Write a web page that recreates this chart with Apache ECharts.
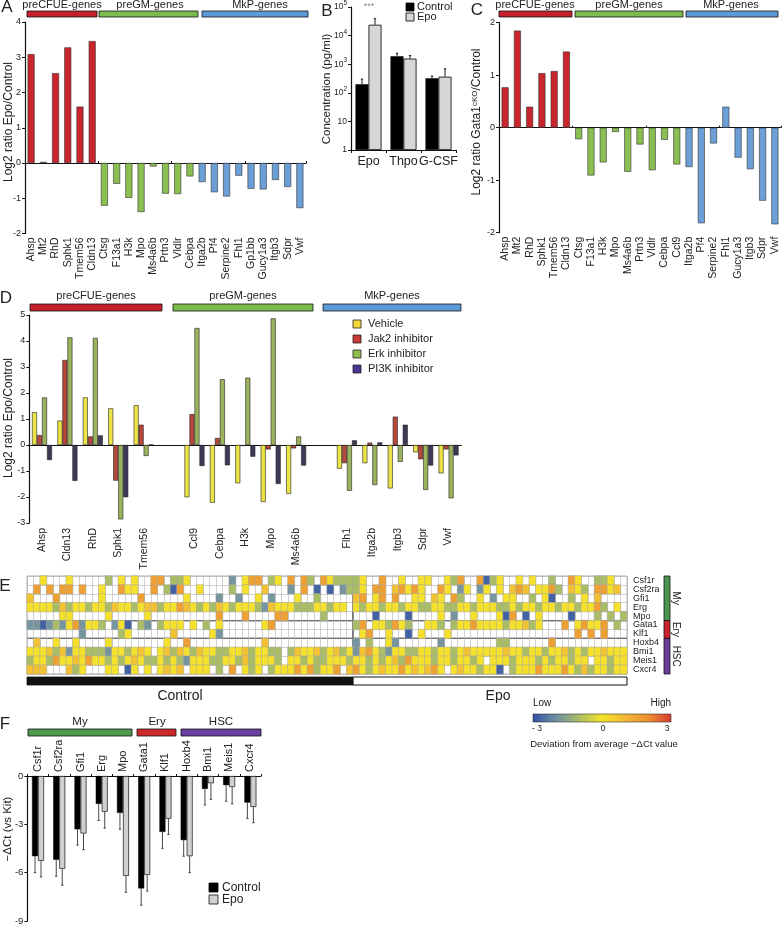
<!DOCTYPE html>
<html><head><meta charset="utf-8">
<script src="https://cdn.jsdelivr.net/npm/echarts@6/dist/echarts.min.js"></script>
<style>html,body{margin:0;padding:0;background:#fff}#c{width:783px;height:926px}</style>
</head><body><div id="c"></div>
<script>
const FONT = '"Liberation Sans", Arial, Helvetica, sans-serif';

// ---------- Panel A ----------
const genesA = ['Ahsp','Mt2','RhD','Sphk1','Tmem56','Cldn13','Ctsg','F13a1','H3k','Mpo','Ms4a6b','Prtn3','Vldlr','Cebpa','Itga2b','Pf4','Serpine2','Fhl1','Gp1bb','Gucy1a3','Itgb3','Sdpr','Vwf'];
const log2EpoA = [3.09,0.03,2.55,3.28,1.6,3.46,-1.21,-0.59,-0.99,-1.39,-0.1,-0.87,-0.88,-0.38,-0.54,-0.83,-0.95,-0.36,-0.73,-0.75,-0.48,-0.68,-1.28];
const groupA = ['e','e','e','e','e','e','g','g','g','g','g','g','g','g','m','m','m','m','m','m','m','m','m'];

// ---------- Panel B ----------
const cytokinesB = ['Epo','Thpo','G-CSF'];
const controlB = [200,1900,320];
const controlErrTopB = [300,2400,385];
const epoB = [24000,1570,365];
const epoErrTopB = [39000,2000,690];

// ---------- Panel C ----------
const genesC = ['Ahsp','Mt2','RhD','Sphk1','Tmem56','Cldn13','Ctsg','F13a1','H3k','Mpo','Ms4a6b','Prtn3','Vldlr','Cebpa','Ccl9','Itga2b','Pf4','Serpine2','Fhl1','Gucy1a3','Itgb3','Sdpr','Vwf'];
const log2KoC = [0.77,1.85,0.40,1.04,1.08,1.45,-0.22,-0.91,-0.66,-0.08,-0.84,-0.32,-0.81,-0.23,-0.70,-0.75,-1.82,-0.30,0.40,-0.57,-0.79,-1.39,-1.84];
const groupC = ['e','e','e','e','e','e','g','g','g','g','g','g','g','g','g','m','m','m','m','m','m','m','m'];

// ---------- Panel D ----------
const genesD = ['Ahsp','Cldn13','RhD','Sphk1','Tmem56',' ','Ccl9','Cebpa','H3k','Mpo','Ms4a6b','  ','Flh1','Itga2b','Itgb3','Sdpr','Vwf'];
const vehicleD = [1.26,0.94,1.83,1.41,1.53,null,-2.01,-2.22,-1.47,-2.19,-1.88,null,-0.91,-0.70,-1.67,-0.28,-1.09];
const jak2D    = [0.38,3.27,0.33,-1.37,0.78,null,1.19,0.27,-0.04,-0.17,-0.13,null,-0.70,0.09,1.09,-0.55,-0.17];
const erkD     = [1.83,4.14,4.12,-2.86,-0.42,null,4.50,2.53,2.59,4.87,0.33,null,-1.76,-1.54,-0.65,-1.73,-2.05];
const pi3kD    = [-0.58,-1.38,0.37,-2.01,0.02,null,-0.81,-0.78,-0.45,-1.50,-0.79,null,0.18,0.10,0.78,-0.79,-0.40];
const seriesNamesD = ['Vehicle','Jak2 inhibitor','Erk inhibitor','PI3K inhibitor'];

// ---------- Panel E (heatmap, one code per cell; '.' = no value) ----------
const heatRows = ['Csf1r','Csf2ra','Gfi1','Erg','Mpo','Gata1','Klf1','Hoxb4','Bmi1','Meis1','Cxcr4'];
const heatCodeValue = {b:-2.7, g:-1.9, o:-1.0, l:-0.4, y:0.1, a:0.8, O:1.6, r:2.4};
const heatCodes = [
 '..y...y... ..o.y.y..O O.ooy..... .g.yOO.oy. O.Oo.Oyooo | oy..O..y.. yy..yoO..O boy..y.y.. o..Oy..ooy ..',
 '.O.O.OO.O. .y..Oyy..O .obO..y... .o.y..a... g.O.b.b.go | oy.OO.aOyO y..Oy.gy.g y.y.aOa.yy Oo.ayo.OOy a.',
 'a...O..... .y.....O.. ....y....g ..g..y.g.. .y..o..... | aO.yO.O..y y.ay.Oo..y .g.yy..o.y b..o.y.a.. ..',
 'yyyyoaoyyo yyoayyoyaa oyyOayoyoa yoyyyogayy yoooyyoyy. | yoyyoyyoyy ooyyooyyoy yyooyoyyoy yoyyoyyOo. y.',
 '.....yy... ..y.....y. .........O ...O....OO .....o.... | ...b....b. ...y.g..y. ..ybO.b.y. ...b...o.o .o',
 'ggbgogyOgy yo.gyb.og. oyyy.y.o.y ......yO.. .......... | oO.yyoOyo. .yyo.oyyOy yyyoyyaoy. ..O.yOyyO. o.',
 '........g. ....oy.... ..a.....yg .......... .......... | .yO..y..b. y...y..... .......... ....O.O.O. ..',
 '.a..y..y.. ..y....... .y..O..... ......a... .......... | g.o..yg... ...g...... ..oo...... O......... ..',
 'yyyaoagyyo oogyyoyay. yaoayoayyo oyyaoyyoo. oayyaoyaoy | gaOyogyyoo yyoyyoyayy yyyayyoyyo yyaoyoyyay yy',
 'oyyoOyyayO yyoyoyayoo yoyogyyyoo yyoaoyyyo. yyoyooyyyo | yyoyoyaoOy yyoyyoyyoy .yyyoyyyoy oyyoyy.yyo yy',
 'aaa...aoy. ..yy.by.y. yaya.yyy.o .O.yoy.oyy yOyOoyyO.a | OyoyayyOya yaOy.yayyo yyb.oyyyOy yyOyoaoyyo yy'
];
const nControl = 50, nEpo = 42;

// ---------- Panel F ----------
const genesF = ['Csf1r','Csf2ra','Gfi1','Erg','Mpo','Gata1','Klf1','Hoxb4','Bmi1','Meis1','Cxcr4'];
const controlF = [-4.98,-5.20,-3.31,-1.73,-2.29,-6.98,-3.47,-3.98,-0.80,-0.57,-1.65];
const controlErrF = [1.02,1.02,0.98,1.03,1.02,1.04,1.02,1.00,1.00,1.00,0.98];
const epoF = [-5.27,-5.76,-3.57,-2.22,-6.20,-6.14,-2.65,-4.98,-0.45,-0.69,-1.92];
const epoErrF = [1.00,1.02,1.00,1.02,1.02,1.00,0.98,1.02,1.00,1.04,0.98];

// ================= build =================
const chart = echarts.init(document.getElementById('c'), null, {renderer:'canvas', width:783, height:926});
const BAR_COL = {e:'#c8252d', g:'#8cbf52', m:'#6c9fd8'};
const HDR = {red:'#c4212b', green:'#7cbc4c', blue:'#5b9ad6'};
const TXT = '#222';

const heatCols = [];
for (let i = 0; i < nControl + nEpo; i++) heatCols.push(String(i));
const heatData = [];
heatCodes.forEach((row, r) => {
  const s = row.replace(/[ |]/g, '');
  for (let c = 0; c < nControl + nEpo; c++) {
    const ch = s[c];
    if (ch && heatCodeValue[ch] !== undefined) heatData.push([c, r, heatCodeValue[ch]]);
  }
});

const HM = {left:27, top:576, width:600, height:98};
const heatColors = ['#2f4fa3','#7090a4','#a9bd66','#f5e52a','#f3b935','#ec8f30','#d63a2f'];

function barItems(vals, groups) {
  return vals.map((v, i) => ({value: v, itemStyle: {color: BAR_COL[groups[i]]}}));
}
function t(x, y, text, size, opts) {
  return Object.assign({type:'text', x:x, y:y, silent:true, style:Object.assign({
    text:text, fill:TXT, font: size + 'px ' + FONT, textAlign:'center', textVerticalAlign:'middle'
  }, (opts && opts.style) || {})}, (opts && opts.el) || {});
}
function r(x, y, w, h, fill, stroke, lw) {
  return {type:'rect', silent:true, shape:{x:x, y:y, width:w, height:h}, style:{fill:fill, stroke:stroke || '#111', lineWidth: lw == null ? 0.8 : lw}};
}
function ln(x1, y1, x2, y2, stroke, lw) {
  return {type:'line', silent:true, shape:{x1:x1, y1:y1, x2:x2, y2:y2}, style:{stroke:stroke, lineWidth:lw}};
}
const ROT = Math.PI / 2;

const axisLbl = {fontSize:9, color:TXT, fontFamily:FONT};
const yLine = {show:true, lineStyle:{color:'#111', width:1.2}};
const tick3 = {show:true, length:3, lineStyle:{color:'#111'}};

function errRender(offset, color) {
  return function (params, api) {
    const p0 = api.coord([api.value(0), api.value(1)]);
    const p1 = api.coord([api.value(0), api.value(2)]);
    const x = p0[0] + offset;
    return {type:'group', children:[
      {type:'line', shape:{x1:x, y1:p0[1], x2:x, y2:p1[1]}, style:{stroke:color, lineWidth:0.9}},
      {type:'line', shape:{x1:x - 1.2, y1:p1[1], x2:x + 1.2, y2:p1[1]}, style:{stroke:color, lineWidth:0.9}}
    ]};
  };
}

const option = {
  animation: false,
  backgroundColor: '#fff',
  textStyle: {fontFamily: FONT},
  grid: [
    {left:25, top:22, width:281, height:211.5},
    {left:351, top:5, width:105, height:145},
    {left:499, top:22.7, width:282, height:210},
    {left:29.3, top:315, width:432, height:208},
    {left:HM.left, top:HM.top, width:HM.width, height:HM.height, show:true, borderColor:'#9a9a9a', borderWidth:0.8},
    {left:27.4, top:776, width:233.6, height:146}
  ],
  xAxis: [
    {gridIndex:0, type:'category', data:genesA, position:'bottom', axisLine:{show:false, onZero:false}, axisTick:{show:false},
      axisLabel:Object.assign({}, axisLbl, {rotate:90, interval:0, fontSize:10.5, margin:4})},
    {gridIndex:0, type:'category', data:genesA, position:'top', axisLine:{show:true, onZero:true, lineStyle:{color:'#111', width:1}},
      axisTick:{show:true, length:2, lineStyle:{color:'#111'}}, axisLabel:{show:false}},
    {gridIndex:1, type:'category', data:cytokinesB, axisLine:{show:true, lineStyle:{color:'#111'}}, axisTick:{show:true, length:3, lineStyle:{color:'#111'}},
      axisLabel:Object.assign({}, axisLbl, {fontSize:12.5, margin:5, interval:0})},
    {gridIndex:2, type:'category', data:genesC, position:'bottom', axisLine:{show:false, onZero:false}, axisTick:{show:false},
      axisLabel:Object.assign({}, axisLbl, {rotate:90, interval:0, fontSize:10.5, margin:4})},
    {gridIndex:2, type:'category', data:genesC, position:'top', axisLine:{show:true, onZero:true, lineStyle:{color:'#111', width:1}},
      axisTick:{show:true, length:2, lineStyle:{color:'#111'}}, axisLabel:{show:false}},
    {gridIndex:3, type:'category', data:genesD, position:'bottom', axisLine:{show:false, onZero:false}, axisTick:{show:false},
      axisLabel:Object.assign({}, axisLbl, {rotate:90, interval:0, fontSize:10.5, margin:5})},
    {gridIndex:3, type:'category', data:genesD, position:'top', axisLine:{show:true, onZero:true, lineStyle:{color:'#111', width:1}},
      axisTick:{show:false}, axisLabel:{show:false}},
    {gridIndex:4, type:'category', data:heatCols, axisLine:{show:false}, axisTick:{show:false}, axisLabel:{show:false},
      splitLine:{show:true, interval:0, lineStyle:{color:'#b4b4b4', width:0.6}}},
    {gridIndex:5, type:'category', data:genesF, position:'top', axisLine:{show:true, lineStyle:{color:'#111'}},
      axisTick:{show:true, length:2, lineStyle:{color:'#111'}},
      axisLabel:Object.assign({}, axisLbl, {rotate:90, interval:0, fontSize:11, margin:4})}
  ],
  yAxis: [
    {gridIndex:0, type:'value', min:-2, max:4, interval:1, axisLine:yLine, axisTick:tick3, splitLine:{show:false},
      axisLabel:Object.assign({}, axisLbl, {margin:4})},
    {gridIndex:1, type:'log', logBase:10, min:1, max:100000, axisLine:yLine, axisTick:tick3, splitLine:{show:false},
      axisLabel:Object.assign({}, axisLbl, {margin:4, fontSize:8.5, lineHeight:14,
        formatter: v => v < 5 ? '1' : v < 50 ? '10' : '10{s|' + Math.round(Math.log10(v)) + '}',
        rich:{s:{fontSize:6.5, verticalAlign:'top', lineHeight:7, fontFamily:FONT, color:TXT}}})},
    {gridIndex:2, type:'value', min:-2, max:2, interval:1, axisLine:yLine, axisTick:tick3, splitLine:{show:false},
      axisLabel:Object.assign({}, axisLbl, {margin:4})},
    {gridIndex:3, type:'value', min:-3, max:5, interval:1, axisLine:yLine, axisTick:tick3, splitLine:{show:false},
      axisLabel:Object.assign({}, axisLbl, {margin:4})},
    {gridIndex:4, type:'category', data:heatRows, inverse:true, position:'right', axisLine:{show:false}, axisTick:{show:false},
      axisLabel:Object.assign({}, axisLbl, {fontSize:9, margin:6, interval:0}),
      splitLine:{show:true, interval:0, lineStyle:{color:'#b4b4b4', width:0.6}}},
    {gridIndex:5, type:'value', min:-9, max:0, interval:3, axisLine:yLine, axisTick:tick3, splitLine:{show:false},
      axisLabel:Object.assign({}, axisLbl, {margin:4, fontSize:9.5})}
  ],
  visualMap: [{type:'continuous', show:false, min:-3, max:3, seriesIndex:9, inRange:{color:heatColors}}],
  series: [
    {type:'bar', xAxisIndex:0, yAxisIndex:0, barWidth:7, data:barItems(log2EpoA, groupA),
      itemStyle:{borderColor:'#333', borderWidth:0.6}},
    {type:'bar', name:'Control', xAxisIndex:2, yAxisIndex:1, barWidth:13, barGap:'0%', data:controlB,
      itemStyle:{color:'#000', borderColor:'#000', borderWidth:0.5}},
    {type:'bar', name:'Epo', xAxisIndex:2, yAxisIndex:1, barWidth:13, barGap:'0%', data:epoB,
      itemStyle:{color:'#d6d6d6', borderColor:'#000', borderWidth:0.8}},
    {type:'custom', xAxisIndex:2, yAxisIndex:1, z:5,
      data: controlB.map((v, i) => [i, v, controlErrTopB[i], -1]).concat(epoB.map((v, i) => [i, v, epoErrTopB[i], 1])),
      renderItem: function (params, api) {
        const side = api.value(3);
        return errRender(side * 6.5, '#000')(params, api);
      }},
    {type:'bar', xAxisIndex:3, yAxisIndex:2, barWidth:7, data:barItems(log2KoC, groupC),
      itemStyle:{borderColor:'#333', borderWidth:0.6}},
    {type:'bar', name:seriesNamesD[0], xAxisIndex:5, yAxisIndex:3, barWidth:5, barGap:'0%', data:vehicleD,
      itemStyle:{color:'#ece346', borderColor:'#222', borderWidth:0.6}},
    {type:'bar', name:seriesNamesD[1], xAxisIndex:5, yAxisIndex:3, barWidth:5, barGap:'0%', data:jak2D,
      itemStyle:{color:'#b5473b', borderColor:'#222', borderWidth:0.6}},
    {type:'bar', name:seriesNamesD[2], xAxisIndex:5, yAxisIndex:3, barWidth:5, barGap:'0%', data:erkD,
      itemStyle:{color:'#9ab35c', borderColor:'#222', borderWidth:0.6}},
    {type:'bar', name:seriesNamesD[3], xAxisIndex:5, yAxisIndex:3, barWidth:5, barGap:'0%', data:pi3kD,
      itemStyle:{color:'#3d3a57', borderColor:'#222', borderWidth:0.6}},
    {type:'heatmap', xAxisIndex:7, yAxisIndex:4, data:heatData,
      itemStyle:{borderColor:'#a8a8a8', borderWidth:0.5}},
    {type:'bar', name:'Control', xAxisIndex:8, yAxisIndex:5, barWidth:6, barGap:'0%', data:controlF,
      itemStyle:{color:'#000', borderColor:'#000', borderWidth:0.5}},
    {type:'bar', name:'Epo', xAxisIndex:8, yAxisIndex:5, barWidth:6, barGap:'0%', data:epoF,
      itemStyle:{color:'#d0d0d0', borderColor:'#111', borderWidth:0.7}},
    {type:'custom', xAxisIndex:8, yAxisIndex:5, z:5,
      data: controlF.map((v, i) => [i, v, v - controlErrF[i], -1]).concat(epoF.map((v, i) => [i, v, v - epoErrF[i], 1])),
      renderItem: function (params, api) {
        const side = api.value(3);
        return errRender(side * 3, '#333')(params, api);
      }}
  ],
  graphic: []
};

const sepX = HM.left + HM.width * nControl / (nControl + nEpo);
const rowH = HM.height / heatRows.length;
const g = [
  t(7, 7, 'A', 17), t(327, 11, 'B', 17), t(477, 10, 'C', 17), t(6, 298, 'D', 17), t(5, 586, 'E', 17), t(5, 724, 'F', 17),
  r(27, 11, 70, 6, HDR.red), r(99, 11, 99, 6, HDR.green), r(202, 11, 106, 6, HDR.blue),
  t(62, 5, 'preCFUE-genes', 11), t(150, 5, 'preGM-genes', 11), t(260, 5, 'MkP-genes', 11),
  t(9, 122, 'Log2 ratio Epo/Control', 12, {el:{rotation:ROT}}),
  t(327, 89, 'Concentration (pg/ml)', 11.5, {el:{rotation:ROT}}),
  t(369, 7, '***', 9, {style:{fill:'#888'}}),
  r(406, 3, 8, 8, '#000', '#000'), t(417, 7, 'Control', 11, {style:{textAlign:'left'}}),
  r(406, 13, 8, 8, '#d6d6d6', '#000'), t(417, 17, 'Epo', 11, {style:{textAlign:'left'}}),
  r(499, 11, 73, 6, HDR.red), r(575, 11, 108, 6, HDR.green), r(686, 11, 92, 6, HDR.blue),
  t(535, 5, 'preCFUE-genes', 11), t(629, 5, 'preGM-genes', 11), t(731, 5, 'MkP-genes', 11),
  {type:'text', x:477, y:122, rotation:ROT, silent:true, style:{
    text:'Log2 ratio Gata1{s|cKO}/Control', fill:TXT, font:'12px ' + FONT, textAlign:'center', textVerticalAlign:'middle',
    rich:{s:{fontSize:8, fontFamily:FONT, fill:TXT, verticalAlign:'top', lineHeight:8}}}},
  r(30, 304, 132, 7, HDR.red), r(173, 304, 140, 7, HDR.green), r(323, 304, 138, 7, HDR.blue),
  t(96, 296, 'preCFUE-genes', 11), t(243, 296, 'preGM-genes', 11), t(392, 296, 'MkP-genes', 11),
  t(9, 418, 'Log2 ratio Epo/Control', 12, {el:{rotation:ROT}}),
  r(353, 320, 8, 8, '#f3d93a', '#222'), t(368, 324, seriesNamesD[0], 11, {style:{textAlign:'left'}}),
  r(353, 335, 8, 8, '#c93838', '#222'), t(368, 339, seriesNamesD[1], 11, {style:{textAlign:'left'}}),
  r(353, 350, 8, 8, '#8fc04e', '#222'), t(368, 354, seriesNamesD[2], 11, {style:{textAlign:'left'}}),
  r(353, 365, 8, 8, '#4b3592', '#222'), t(368, 369, seriesNamesD[3], 11, {style:{textAlign:'left'}}),
  ln(sepX, HM.top, sepX, HM.top + HM.height, '#111', 1.3),
  ln(HM.left, HM.top + 5 * rowH, HM.left + HM.width, HM.top + 5 * rowH, '#111', 1.3),
  ln(HM.left, HM.top + 7 * rowH, HM.left + HM.width, HM.top + 7 * rowH, '#111', 1.3),
  r(HM.left, 677, sepX - HM.left, 8, '#111', '#111'),
  r(sepX, 677, HM.left + HM.width - sepX, 8, '#fff', '#111', 1),
  t(180, 696, 'Control', 14), t(498, 696, 'Epo', 14),
  r(664, HM.top, 6, 5 * rowH, '#4a9550', '#111'),
  r(664, HM.top + 5 * rowH, 6, 2 * rowH, '#cf2230', '#111'),
  r(664, HM.top + 7 * rowH, 6, 4 * rowH, '#6b3d9a', '#111'),
  t(676, HM.top + 2.5 * rowH, 'My', 10, {el:{rotation:-ROT}}),
  t(676, HM.top + 6 * rowH, 'Ery', 10, {el:{rotation:-ROT}}),
  t(676, HM.top + 9 * rowH, 'HSC', 10, {el:{rotation:-ROT}}),
  {type:'rect', silent:true, shape:{x:533, y:714, width:138, height:8}, style:{stroke:'#333', lineWidth:0.6,
    fill:new echarts.graphic.LinearGradient(0, 0, 1, 0, heatColors.map((c, i) => ({offset:i / (heatColors.length - 1), color:c})))}},
  t(533, 703, 'Low', 10, {style:{textAlign:'left'}}), t(671, 703, 'High', 10, {style:{textAlign:'right'}}),
  t(537, 729, '- 3', 8.5), t(603, 729, '0', 8.5), t(667, 729, '3', 8.5),
  t(604, 744, 'Deviation from average \u2212\u0394Ct value', 9.5),
  r(28, 729, 104, 7, '#4e9a4e'), r(137, 729, 39, 7, '#cc2a2a'), r(181, 729, 80, 7, '#6b3fa0'),
  t(80, 722, 'My', 11.5), t(157, 722, 'Ery', 11.5), t(221, 722, 'HSC', 11.5),
  t(8, 829, '\u2212\u0394Ct (vs Kit)', 11.5, {el:{rotation:ROT}}),
  r(209, 883, 9, 9, '#000', '#000'), t(222, 888, 'Control', 12, {style:{textAlign:'left'}}),
  r(209, 895, 9, 9, '#d0d0d0', '#111'), t(222, 900, 'Epo', 12, {style:{textAlign:'left'}})
];
option.graphic = g;
chart.setOption(option);
</script>
</body></html>
